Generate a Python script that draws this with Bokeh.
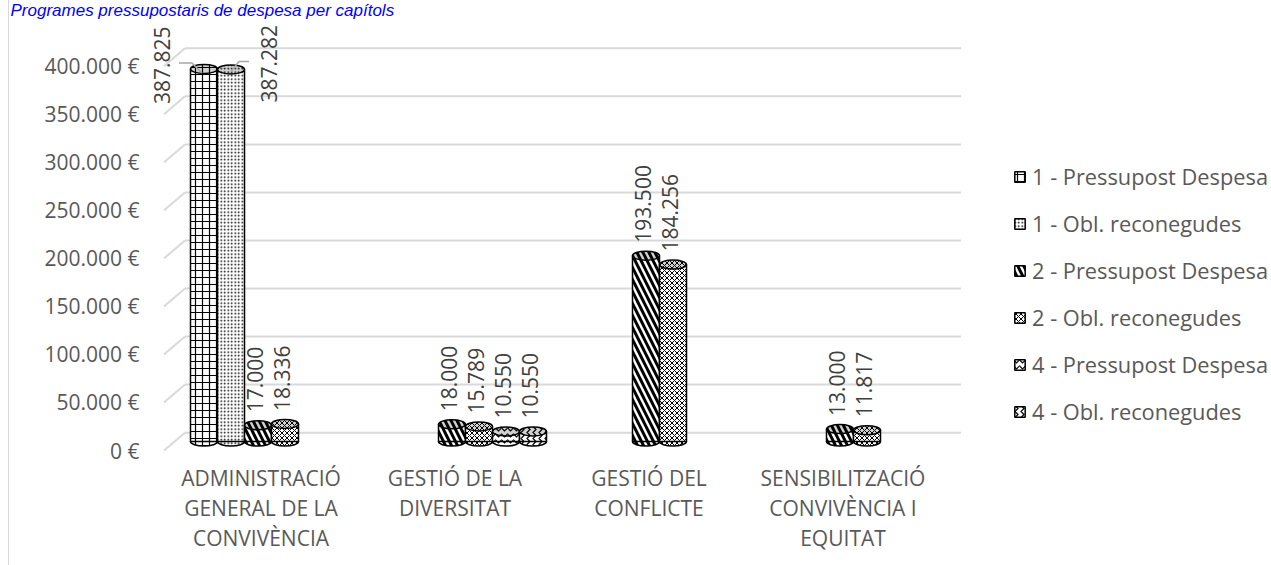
import math
from bokeh.plotting import figure
from bokeh.models import (Range1d, FixedTicker, ColumnDataSource, Legend, LegendItem, Title)
from bokeh.core.properties import value
from bokeh.embed import file_html
from bokeh.resources import INLINE

# ---------------- data ----------------
title_text = "Programes pressupostaris de despesa per capítols"
categories = [
    "ADMINISTRACIÓ\nGENERAL DE LA\nCONVIVÈNCIA",
    "GESTIÓ DE LA\nDIVERSITAT",
    "GESTIÓ DEL\nCONFLICTE",
    "SENSIBILITZACIÓ\nCONVIVÈNCIA I\nEQUITAT",
]
series_names = [
    "1 - Pressupost Despesa",
    "1 - Obl. reconegudes",
    "2 - Pressupost Despesa",
    "2 - Obl. reconegudes",
    "4 - Pressupost Despesa",
    "4 - Obl. reconegudes",
]
pressupost_1 = [387825, 0, 0, 0]
obligacions_1 = [387282, 0, 0, 0]
pressupost_2 = [17000, 18000, 193500, 13000]
obligacions_2 = [18336, 15789, 184256, 11817]
pressupost_4 = [0, 10550, 0, 0]
obligacions_4 = [0, 10550, 0, 0]
y_ticks = [0, 50000, 100000, 150000, 200000, 250000, 300000, 350000, 400000]

series_values = [pressupost_1, obligacions_1, pressupost_2, obligacions_2,
                 pressupost_4, obligacions_4]

# ---------------- geometry (pixels) ----------------
W, H = 1262, 565
FRAME_LEFT = 141
FRONT_LEFT = 154.5        # canvas x of the front-left corner of the floor
TOP_PANEL = 18
BOTTOM_PANEL = 111
FRAME_H = H - TOP_PANEL - BOTTOM_PANEL
FRAME_W = W - FRAME_LEFT
PX_CAT = 194.0
PX_STEP = 48.375          # pixels per 50 000
ZERO_Y = 450.0 - TOP_PANEL  # front zero line, from frame top
DEPTH_X, DEPTH_Y = 21.0, 18.0


def dx(px):
    return px / PX_CAT


def dy(px):
    return px / PX_STEP * 50000.0


y_start = -dy(FRAME_H - ZERO_Y)
y_end = y_start + dy(FRAME_H)
x_start = -0.5 - dx(FRONT_LEFT - FRAME_LEFT)
x_end = x_start + dx(FRAME_W)

FONT = "Open Sans"
GREY = "#595959"

p = figure(width=W, height=H, output_backend="svg", toolbar_location=None,
           x_range=Range1d(x_start, x_end), y_range=Range1d(y_start, y_end),
           min_border_left=FRAME_LEFT, min_border_right=0, min_border_top=TOP_PANEL,
           min_border_bottom=BOTTOM_PANEL)
p.styles = {"margin-left": "8px", "border-left": "1px solid #d9d9d9"}
p.outline_line_color = None
p.xgrid.visible = False
p.ygrid.visible = False
p.background_fill_color = "white"
p.border_fill_color = "white"

p.add_layout(Title(text=title_text, align="left", offset=-FRAME_LEFT + 1,
                   text_font="Liberation Sans", text_font_style="italic",
                   text_font_size="17px", text_color="#0000ff",
                   standoff=0, vertical_align="top"), "above")

# ---- axes ----
p.yaxis.ticker = FixedTicker(ticks=y_ticks)
p.yaxis.major_label_overrides = {v: f"{v:,}".replace(",", ".") + " €" for v in y_ticks}
p.yaxis.axis_line_color = None
p.yaxis.major_tick_line_color = None
p.yaxis.minor_tick_line_color = None
p.yaxis.major_tick_out = 0
p.yaxis.major_label_standoff = 23 - int(FRONT_LEFT - 1.5 - FRAME_LEFT)
p.yaxis.major_label_text_font = FONT
p.yaxis.major_label_text_font_size = "21px"
p.yaxis.major_label_text_color = GREY

p.xaxis.ticker = FixedTicker(ticks=list(range(len(categories))))
p.xaxis.major_label_overrides = {i: c for i, c in enumerate(categories)}
p.xaxis.axis_line_color = None
p.xaxis.major_tick_line_color = None
p.xaxis.minor_tick_line_color = None
p.xaxis.major_tick_out = 0
p.xaxis.major_label_standoff = 9
p.xaxis.major_label_text_font = FONT
p.xaxis.major_label_text_font_size = "21px"
p.xaxis.major_label_text_color = GREY
p.xaxis.major_label_text_line_height = 1.085

# ---- 3-D back grid ----
bx0 = -0.5 + dx(DEPTH_X)
bx1 = len(categories) - 0.5 + dx(DEPTH_X)
gy = [v + dy(DEPTH_Y) for v in y_ticks]
p.segment(x0=[bx0] * len(y_ticks), y0=gy, x1=[bx1] * len(y_ticks), y1=gy,
          line_color="#d9d9d9", line_width=2)
p.segment(x0=[-0.5] * len(y_ticks), y0=y_ticks, x1=[bx0] * len(y_ticks), y1=gy,
          line_color="#d9d9d9", line_width=2)

# ---- cylinders ----
n_series = len(series_names)
BAR_W = 27.0 / PX_CAT
PAD = (1.0 - n_series * BAR_W) / 2.0
MIDX, MIDY = dx(DEPTH_X / 2), dy(DEPTH_Y / 2)

hatches = [
    dict(hatch_pattern="cross", hatch_scale=7, hatch_weight=1.2),
    dict(hatch_pattern="dot", hatch_scale=3.5, hatch_weight=1.4),
    dict(hatch_pattern="left_diagonal_line", hatch_scale=12, hatch_weight=3),
    dict(hatch_pattern="diagonal_cross", hatch_scale=5, hatch_weight=1),
    dict(hatch_pattern="horizontal_wave", hatch_scale=6, hatch_weight=1.2),
    dict(hatch_pattern="vertical_wave", hatch_scale=6, hatch_weight=1.2),
]

legend_items = []
label_x, label_y, label_t, label_xo, label_yo = [], [], [], [], []
for s, (name, vals) in enumerate(zip(series_names, series_values)):
    xs, tops = [], []
    for i, v in enumerate(vals):
        if v:
            xs.append(i - 0.5 + PAD + (s + 0.5) * BAR_W + MIDX)
            tops.append(v + MIDY)
            label_x.append(xs[-1])
            label_y.append(tops[-1])
            label_t.append(f"{v:,}".replace(",", "."))
    src = ColumnDataSource(dict(x=xs, top=tops, bottom=[MIDY] * len(xs)))
    h = hatches[s]
    p.ellipse(x="x", y="bottom", width=BAR_W, height=9, height_units="screen",
              source=src, fill_color="white", line_color="black", line_width=1.5,
              hatch_color="black", **h)
    r = p.vbar(x="x", top="top", bottom="bottom", width=BAR_W, source=src,
               fill_color="white", line_color="black", line_width=1.5,
               hatch_color="black", **h)
    p.ellipse(x="x", y="top", width=BAR_W, height=9, height_units="screen",
              source=src, fill_color="#d0d0d0", line_color="black", line_width=1.5,
              hatch_color="black", **h)
    legend_items.append(LegendItem(label=name, renderers=[r]))

# label offsets (screen px): the two tallest labels sit beside their bars
for k, t in enumerate(label_t):
    if k == 0:
        label_xo.append(-42); label_yo.append(35)
    elif k == 1:
        label_xo.append(38); label_yo.append(33)
    else:
        label_xo.append(-3); label_yo.append(-13)

lab_src = ColumnDataSource(dict(x=label_x, y=label_y, t=label_t, xo=label_xo, yo=label_yo))
p.text(x="x", y="y", text="t", x_offset="xo", y_offset="yo", source=lab_src,
       angle=math.pi / 2, text_align="left", text_baseline="middle",
       text_font=value(FONT), text_font_size="21px", text_color="#404040")

# leader lines for the two side labels
lx0, ly0 = label_x[0], label_y[0]
lx1, ly1 = label_x[1], label_y[1]
p.multi_line(
    xs=[[lx0 - dx(25), lx0 - dx(12), lx0 - dx(2)], [lx1 + dx(18), lx1 + dx(8), lx1]],
    ys=[[ly0 + dy(6), ly0 + dy(6), ly0 - dy(4)], [ly1 + dy(8), ly1 + dy(8), ly1 - dy(2)]],
    line_color="#a6a6a6", line_width=1.5)

# ---- legend ----
legend = Legend(items=legend_items, location=(1004 - FRAME_LEFT, 28), orientation="vertical",
                label_text_font=FONT, label_text_font_size="21.8px",
                label_text_color=GREY, glyph_width=13, glyph_height=13,
                label_standoff=6, spacing=18, padding=0, margin=0,
                border_line_color=None, background_fill_alpha=0)
p.add_layout(legend, "center")

open("out.html", "w").write(file_html(p, INLINE))
